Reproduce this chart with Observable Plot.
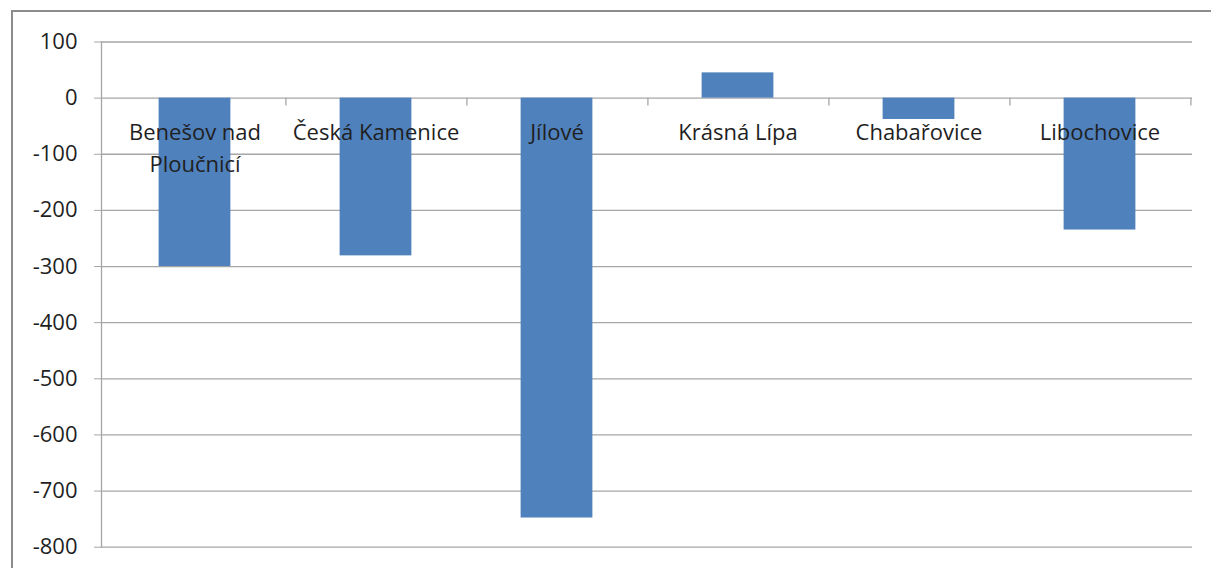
<!DOCTYPE html>
<html>
<head>
<meta charset="utf-8">
<script src="https://cdn.jsdelivr.net/npm/d3@7"></script>
<script src="https://cdn.jsdelivr.net/npm/@observablehq/plot@0.6"></script>
<style>
  html, body { margin: 0; padding: 0; background: #fff; overflow: hidden; }
  #wrap { position: relative; width: 1211px; height: 568px; }
  #border { position: absolute; left: 11px; top: 10px; width: 1300px; height: 700px; border: 2px solid #8c8c8c; box-sizing: border-box; }
  #chart { position: absolute; left: 0; top: 0; }
</style>
</head>
<body>
<div id="wrap"><div id="border"></div><div id="chart"></div></div>
<script>
const categories = ["Benešov nad\nPloučnicí", "Česká Kamenice", "Jílové", "Krásná Lípa", "Chabařovice", "Libochovice"];
const values = [-300, -281, -748, 45, -38, -235];
const yTicks = [100, 0, -100, -200, -300, -400, -500, -600, -700, -800];

const data = categories.map((c, i) => ({category: c, value: values[i]}));

const W = 1211, H = 568;
const mL = 101, mR = 19, mT = 41.5, mB = 21.3;
const step = (W - mL - mR) / categories.length;
const barW = 72.6;
const inset = (step - barW) / 2;
const gridColor = "#a6a6a6";
const font = "'Open Sans', sans-serif";

const chart = Plot.plot({
  width: W,
  height: H,
  marginLeft: mL,
  marginRight: mR,
  marginTop: mT,
  marginBottom: mB,
  style: {fontFamily: font, fontSize: "22px", color: "#1f1f1f", background: "transparent"},
  x: {domain: categories, padding: 0, axis: null},
  y: {domain: [-800, 100], ticks: yTicks, label: null},
  marks: [
    Plot.gridY(yTicks, {stroke: gridColor, strokeOpacity: 1, strokeWidth: 1.3}),
    Plot.axisY(yTicks, {tickSize: 7, tickPadding: 17, stroke: gridColor, strokeOpacity: 1, tickFormat: d => d, fill: "#1f1f1f", fontSize: 22, label: null}),
    Plot.frame({anchor: "left", stroke: gridColor, strokeWidth: 1.3}),
    Plot.ruleX(categories, {x: d => d, y1: 0, y2: -14, dx: step / 2, stroke: gridColor, strokeWidth: 1.3}),
    Plot.barY(data, {x: "category", y: "value", fill: "#4f81bd", insetLeft: inset, insetRight: inset}),
    Plot.text(data, {x: "category", y: 0, text: "category", lineAnchor: "top", dy: 19, lineHeight: 1.45, fill: "#1f1f1f", fontSize: 22})
  ]
});
document.getElementById("chart").append(chart);
</script>
</body>
</html>
